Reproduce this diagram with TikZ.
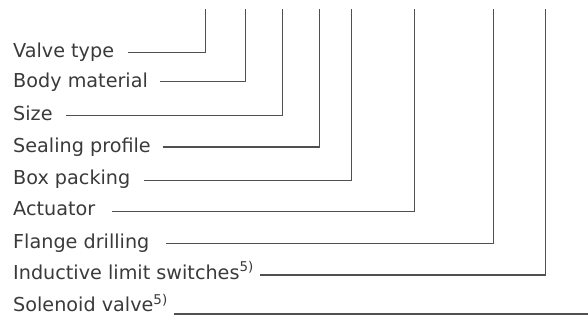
\documentclass[tikz,border=0pt]{standalone}
\usepackage{fontspec}
\setmainfont{DejaVu Sans}
\definecolor{txt}{HTML}{3A3A3A}
\definecolor{ln}{HTML}{505050}
\begin{document}
\begin{tikzpicture}[x=1pt,y=-1pt,
  lbl/.style={anchor=base west,inner sep=0pt,text=txt,font=\fontsize{19.2}{21}\selectfont},
  conn/.style={draw=ln,line width=1.3pt}]
\useasboundingbox (0,0) rectangle (588,320);
% labels
\node[lbl] (l1) at (13,57.3) {Valve type};
\node[lbl] (l2) at (13,87.3) {Body material};
\node[lbl] (l3) at (13,120.7) {Size};
\node[lbl] (l4) at (13,152.7) {Sealing profile};
\node[lbl] (l5) at (13,185) {Box packing};
\node[lbl] (l6) at (13,215.3) {Actuator};
\node[lbl] (l7) at (13,248) {Flange drilling};
\node[lbl] (l8) at (13,279.3) {Inductive limit switches\textsuperscript{5)}};
\node[lbl] (l9) at (13,311.7) {Solenoid valve\textsuperscript{5)}};
% line start points
\coordinate (s1) at (128,52.2);
\coordinate (s2) at (160,81.2);
\coordinate (s3) at (66,115.5);
\coordinate (s4) at (162.7,147);
\coordinate (s5) at (144,180.5);
\coordinate (s6) at (112,211.7);
\coordinate (s7) at (166,243.2);
\coordinate (s8) at (260,275);
\coordinate (s9) at (174,314);
% top ends
\coordinate (t1) at (205.7,9);
\coordinate (t2) at (245.7,9);
\coordinate (t3) at (282.5,9);
\coordinate (t4) at (319.7,9);
\coordinate (t5) at (351.7,9);
\coordinate (t6) at (414.7,9);
\coordinate (t7) at (493.7,9);
\coordinate (t8) at (545.7,9);
\coordinate (e9) at (588,314);
% connectors
\foreach \i in {1,...,8} {\draw[conn] (s\i) -| (t\i);}
\draw[conn] (s9) -- (e9);
\end{tikzpicture}
\end{document}
